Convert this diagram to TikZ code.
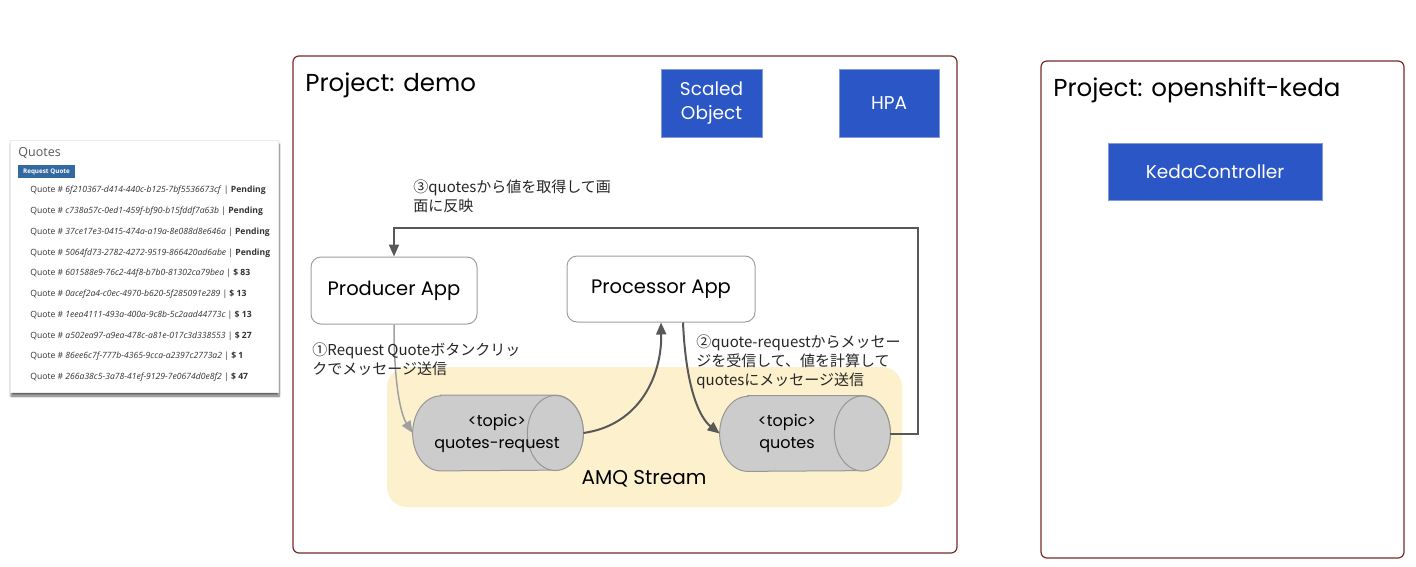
\documentclass[tikz,border=0pt]{standalone}
\usepackage{fontspec}
\setmainfont{Poppins}
\newfontfamily\jpfont{Noto Sans CJK JP}
\newfontfamily\cardfont{Open Sans}
\usetikzlibrary{arrows.meta,shadows.blur}

\definecolor{frameRed}{RGB}{122,40,40}
\definecolor{boxBlue}{RGB}{43,86,198}
\definecolor{streamYellow}{RGB}{252,241,204}
\definecolor{canGray}{RGB}{204,204,204}
\definecolor{canEdge}{RGB}{150,150,150}
\definecolor{flowDark}{RGB}{88,88,88}
\definecolor{flowLight}{RGB}{160,160,160}
\definecolor{btnBlue}{RGB}{50,105,160}

\tikzset{every picture/.style={line width=0.75pt}}
\tikzset{
  project/.style={draw=frameRed, line width=1.2, rounded corners=6, fill=white, inner sep=0},
  bluebox/.style={draw=boxBlue!60!white, fill=boxBlue, text=white, font=\fontsize{18.5}{24}\selectfont, align=center, inner sep=0},
  appbox/.style={draw=gray!75, line width=1, rounded corners=10, fill=white, font=\fontsize{19.5}{22}\selectfont, inner sep=0},
  topic/.style={minimum width=170, minimum height=75, inner sep=0},
  can/.style={draw=canEdge, fill=canGray, line width=1},
  flow/.style={draw=flowDark, line width=2, -{Triangle[length=12,width=10]}},
  note/.style={font=\jpfont\fontsize{15}{19}\selectfont, align=left, anchor=north west, inner sep=0, text=black!85},
  quoterow/.style={font=\cardfont\fontsize{8.6}{10}\selectfont, anchor=west, inner sep=0, text=black!80},
}

\begin{document}
\begin{tikzpicture}[x=1pt,y=1pt,yscale=-1]
	\useasboundingbox (0,0) rectangle (1416,566);

	%Shape: Quotes card
	\node [draw=black!8, fill=white, blur shadow={shadow xshift=1pt, shadow yshift=-4pt, shadow blur steps=8, shadow opacity=60}, minimum width=268, minimum height=252, inner sep=0] (card) at (144,266) {};
	% Text Node
	\node [font=\cardfont\fontsize{12.5}{14}\selectfont, text=black!65, anchor=west, inner sep=0] (cardtitle) at (18,153) {Quotes};
	%Shape: Button
	\node [fill=btnBlue, text=white, font=\cardfont\bfseries\fontsize{6.3}{7}\selectfont, minimum width=57, minimum height=13, inner sep=0] (request) at (46.5,171.5) {Request Quote};
	% Text Node
	\node [quoterow] (q1) at (30,190) {Quote \# \textit{6f210367-d414-440c-b125-7bf5536673cf} | \textbf{Pending}};
	\node [quoterow] (q2) at (30,211) {Quote \# \textit{c738a57c-0ed1-459f-bf90-b15fddf7a63b} | \textbf{Pending}};
	\node [quoterow] (q3) at (30,232) {Quote \# \textit{37ce17e3-0415-474a-a19a-8e088d8e646a} | \textbf{Pending}};
	\node [quoterow] (q4) at (30,253) {Quote \# \textit{5064fd73-2782-4272-9519-866420ad6abe} | \textbf{Pending}};
	\node [quoterow] (q5) at (30,273) {Quote \# \textit{601588e9-76c2-44f8-b7b0-81302ca79bea} | \textbf{\$ 83}};
	\node [quoterow] (q6) at (30,294) {Quote \# \textit{0acef2a4-c0ec-4970-b620-5f285091e289} | \textbf{\$ 13}};
	\node [quoterow] (q7) at (30,315) {Quote \# \textit{1eea4111-493a-400a-9c8b-5c2aad44773c} | \textbf{\$ 13}};
	\node [quoterow] (q8) at (30,336) {Quote \# \textit{a502ea97-a9ea-478c-a81e-017c3d338553} | \textbf{\$ 27}};
	\node [quoterow] (q9) at (30,356) {Quote \# \textit{86ee6c7f-777b-4365-9cca-a2397c2773a2} | \textbf{\$ 1}};
	\node [quoterow] (q10) at (30,377) {Quote \# \textit{266a38c5-3a78-41ef-9129-7e0674d0e8f2} | \textbf{\$ 47}};

	%Shape: Rectangle [demo]
	\node [project, minimum width=664, minimum height=497] (demo) at (625,304.5) {};
	% Text Node
	\node [font=\fontsize{24.5}{30}\selectfont, anchor=west, inner sep=0] (demotitle) at (305,85) {Project: demo};
	%Shape: Rectangle [keda]
	\node [project, minimum width=363, minimum height=497] (keda) at (1222.5,309.5) {};
	% Text Node
	\node [font=\fontsize{24.5}{30}\selectfont, anchor=west, inner sep=0] (kedatitle) at (1053,90) {Project: openshift-keda};

	%Shape: Rectangle [blue]
	\node [bluebox, minimum width=101, minimum height=68] (scaled) at (711.5,103) {Scaled\\Object};
	\node [bluebox, minimum width=100, minimum height=68] (hpa) at (889,103) {HPA};
	\node [bluebox, minimum width=214, minimum height=57] (controller) at (1215,171.5) {KedaController};

	%Shape: Rounded Rect [stream]
	\node [fill=streamYellow, rounded corners=20, minimum width=515, minimum height=140, inner sep=0] (stream) at (644.5,437) {};
	% Text Node
	\node [font=\fontsize{20}{22}\selectfont, inner sep=0] (streamlabel) at (644,479) {AMQ Stream};

	%Shape: Rounded Rect [apps]
	\node [appbox, minimum width=166, minimum height=67] (producer) at (394,290.5) {Producer App};
	\node [appbox, minimum width=188, minimum height=66] (processor) at (661,289) {Processor App};

	%Shape: Can [quotes-request]
	\node [topic] (qreq) at (498,433) {};
	\draw [can] ([xshift=28]qreq.north west) -- ([xshift=-28]qreq.north east) arc [start angle=-90, end angle=90, x radius=28, y radius=37.5] -- ([xshift=28]qreq.south west) arc [start angle=90, end angle=270, x radius=28, y radius=37.5] -- cycle;
	\draw [can] ([xshift=-28]qreq.east) ellipse [x radius=28, y radius=37.5];
	% Text Node
	\node [font=\fontsize{16}{22}\selectfont, align=center, inner sep=0] (qreqlabel) at ([xshift=-1]qreq.center) {<topic>\\quotes-request};

	%Shape: Can [quotes]
	\node [topic] (quotes) at (805,433.5) {};
	\draw [can] ([xshift=28]quotes.north west) -- ([xshift=-28]quotes.north east) arc [start angle=-90, end angle=90, x radius=28, y radius=37.5] -- ([xshift=28]quotes.south west) arc [start angle=90, end angle=270, x radius=28, y radius=37.5] -- cycle;
	\draw [can] ([xshift=-28]quotes.east) ellipse [x radius=28, y radius=37.5];
	% Text Node
	\node [font=\fontsize{16}{22}\selectfont, align=center, inner sep=0] (quoteslabel) at ([xshift=-18]quotes.center) {<topic>\\quotes};

	%Curve Lines [send]
	\draw [flow, draw=flowLight, line width=1.5] (producer.south) .. controls (394,395) and (403,418) .. (qreq.west);
	%Curve Lines [consume]
	\draw [flow] (qreq.east) .. controls (640,425) and (662,375) .. (processor.south);
	%Curve Lines [publish]
	\draw [flow] ([xshift=22]processor.south) .. controls (686,390) and (700,418) .. (quotes.west);
	%Straight Lines [reflect]
	\coordinate (turn) at (918,228);
	\draw [flow] (quotes.east) -| (turn) -| (producer.north);

	% Text Node
	\node [note] (step3) at (413,179) {③quotesから値を取得して画\\面に反映};
	% Text Node
	\node [note] (step1) at (312,342) {①Request Quoteボタンクリッ\\クでメッセージ送信};
	% Text Node
	\node [note] (step2) at (696,334) {②quote-requestからメッセー\\ジを受信して、値を計算して\\quotesにメッセージ送信};

\end{tikzpicture}
\end{document}
